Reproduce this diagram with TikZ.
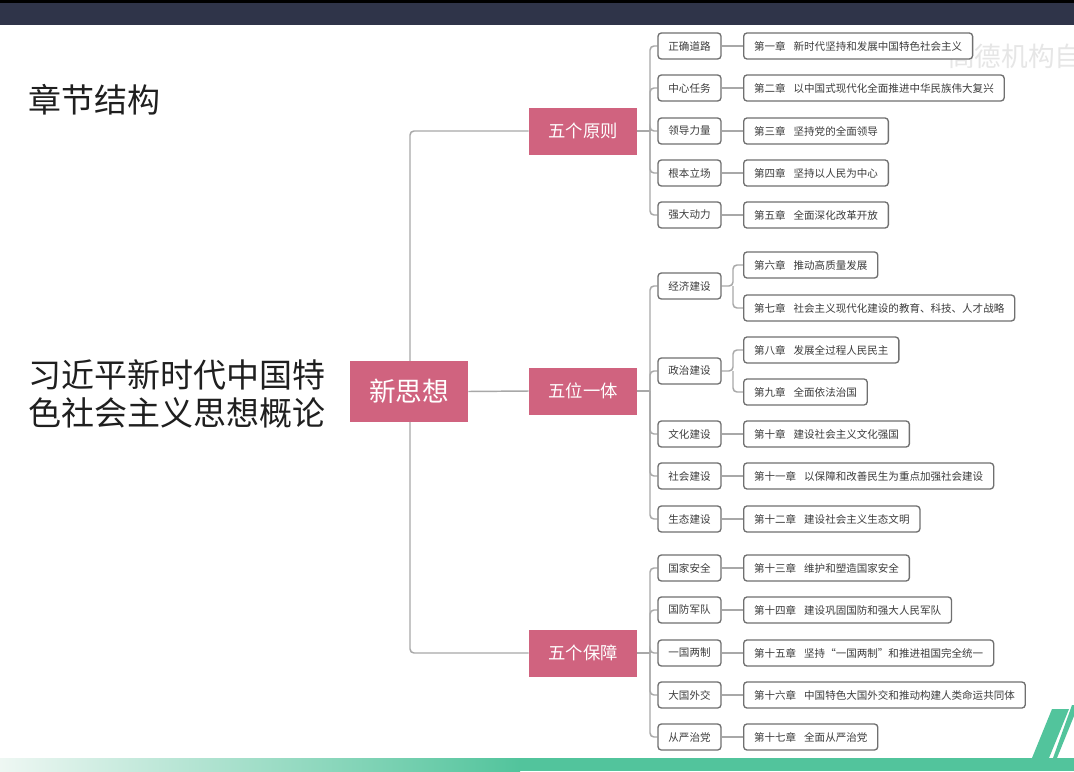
\documentclass[tikz,border=0pt]{standalone}
\usepackage{fontspec}
\setmainfont{Noto Sans CJK SC}
\usetikzlibrary{backgrounds}
\definecolor{pinkc}{HTML}{D0637F}
\definecolor{navyc}{HTML}{2F3449}
\definecolor{linec}{HTML}{A8A8A8}
\definecolor{boxc}{HTML}{707070}
\definecolor{txtc}{HTML}{3C3C3C}
\definecolor{greenc}{HTML}{52C49C}
\definecolor{palec}{HTML}{EEF7F3}
\definecolor{wmc}{HTML}{E6E6E6}
\newcommand\mychap[2]{#1\hspace{6pt}#2}
\begin{document}
\begin{tikzpicture}[x=0.75pt,y=-0.75pt,
  pinkbox/.style={fill=pinkc,text=white,inner sep=0pt,minimum width=81pt,minimum height=35.25pt,font=\fontsize{13}{15}\selectfont},
  secbox/.style={draw=boxc,line width=1pt,rounded corners=2.5pt,fill=white,text=txtc,inner sep=0pt,minimum width=47.25pt,minimum height=19.5pt,font=\fontsize{7.9}{9.5}\selectfont},
  chapbox/.style={secbox,anchor=west,minimum width=0pt,inner xsep=7.8pt},
  conn/.style={draw=linec,line width=1.1pt,rounded corners=3pt},
  bigtext/.style={anchor=west,inner sep=0pt,text=black!88,font=\fontsize{24.75}{28.5}\selectfont}
]
\useasboundingbox (0,0) rectangle (1074,771);
\begin{scope}[on background layer]
\fill[white] (0,0) rectangle (1074,771);
\end{scope}
% top bar
\fill[navyc] (0,0) rectangle (1074,25);
\fill[black] (0,0) rectangle (1074,3);
% bottom strip
\shade[left color=palec,right color=greenc] (0,758) rectangle (520,771);
\fill[greenc] (519,758) rectangle (1074,771);
\fill[greenc] (1052,709) -- (1069,709) -- (1049,758) -- (1032,758) -- cycle;
\fill[greenc] (1072,705) -- (1074,705) -- (1074,716) -- (1057,758) -- (1053,758) -- cycle;
% watermark
\node[anchor=west,inner sep=0pt,text=wmc,font=\fontsize{20}{24}\selectfont] (wm) at (948,56) {高德机构自};
% titles
\node[bigtext] (ttl) at (28,100) {章节结构};
\node[bigtext,align=left] (book) at (28,393.5) {习近平新时代中国特\\色社会主义思想概论};
% central
\node[pinkbox,minimum width=88.5pt,minimum height=45.75pt,font=\fontsize{20}{24}\selectfont] (xsx) at (409,391.5) {新思想};
\node[pinkbox] (g1) at (583,131) {五个原则};
\node[pinkbox] (g2) at (583,391) {五位一体};
\node[pinkbox] (g3) at (583,653) {五个保障};
% second level
\node[secbox] (p1) at (689.5,46) {正确道路};
\node[secbox] (p2) at (689.5,88) {中心任务};
\node[secbox] (p3) at (689.5,131) {领导力量};
\node[secbox] (p4) at (689.5,173) {根本立场};
\node[secbox] (p5) at (689.5,215) {强大动力};
\node[secbox] (p6) at (689.5,286) {经济建设};
\node[secbox] (p7) at (689.5,371) {政治建设};
\node[secbox] (p8) at (689.5,434) {文化建设};
\node[secbox] (p9) at (689.5,476) {社会建设};
\node[secbox] (p10) at (689.5,519) {生态建设};
\node[secbox] (p11) at (689.5,568) {国家安全};
\node[secbox] (p12) at (689.5,610) {国防军队};
\node[secbox] (p13) at (689.5,653) {一国两制};
\node[secbox] (p14) at (689.5,695) {大国外交};
\node[secbox] (p15) at (689.5,737) {从严治党};
% chapters
\node[chapbox] (c1) at (743,46) {\mychap{第一章}{新时代坚持和发展中国特色社会主义}};
\node[chapbox] (c2) at (743,88) {\mychap{第二章}{以中国式现代化全面推进中华民族伟大复兴}};
\node[chapbox] (c3) at (743,131) {\mychap{第三章}{坚持党的全面领导}};
\node[chapbox] (c4) at (743,173) {\mychap{第四章}{坚持以人民为中心}};
\node[chapbox] (c5) at (743,215) {\mychap{第五章}{全面深化改革开放}};
\node[chapbox] (c6) at (743,265) {\mychap{第六章}{推动高质量发展}};
\node[chapbox] (c7) at (743,308) {\mychap{第七章}{社会主义现代化建设的教育、科技、人才战略}};
\node[chapbox] (c8) at (743,350) {\mychap{第八章}{发展全过程人民民主}};
\node[chapbox] (c9) at (743,392) {\mychap{第九章}{全面依法治国}};
\node[chapbox] (c10) at (743,434) {\mychap{第十章}{建设社会主义文化强国}};
\node[chapbox] (c11) at (743,476) {\mychap{第十一章}{以保障和改善民生为重点加强社会建设}};
\node[chapbox] (c12) at (743,519) {\mychap{第十二章}{建设社会主义生态文明}};
\node[chapbox] (c13) at (743,568) {\mychap{第十三章}{维护和塑造国家安全}};
\node[chapbox] (c14) at (743,610) {\mychap{第十四章}{建设巩固国防和强大人民军队}};
\node[chapbox] (c15) at (743,653) {\mychap{第十五章}{坚持“一国两制”和推进祖国完全统一}};
\node[chapbox] (c16) at (743,695) {\mychap{第十六章}{中国特色大国外交和推动构建人类命运共同体}};
\node[chapbox] (c17) at (743,737) {\mychap{第十七章}{全面从严治党}};
% connectors
\begin{scope}[on background layer]
\coordinate (trunk) at (410,131);
\coordinate (b1) at (650,131);
\coordinate (b2) at (650,391);
\coordinate (b3) at (650,653);
\coordinate (k1) at (733,286);
\coordinate (k2) at (733,371);
\draw[conn] (xsx.east) -- (g2.west);
\draw[conn] (g1.west) -- (trunk) |- (g3.west);
\draw[conn] (g1.east) -- (b1);
\draw[conn] (g2.east) -- (b2);
\draw[conn] (g3.east) -- (b3);
\foreach \s in {p1,p2,p3,p4,p5} \draw[conn] (b1) |- (\s.west);
\foreach \s in {p6,p7,p8,p9,p10} \draw[conn] (b2) |- (\s.west);
\foreach \s in {p11,p12,p13,p14,p15} \draw[conn] (b3) |- (\s.west);
\draw[conn] (p1.east) -- (c1.west);
\draw[conn] (p2.east) -- (c2.west);
\draw[conn] (p3.east) -- (c3.west);
\draw[conn] (p4.east) -- (c4.west);
\draw[conn] (p5.east) -- (c5.west);
\draw[conn] (p6.east) -- (k1) |- (c6.west);
\draw[conn] (k1) |- (c7.west);
\draw[conn] (p7.east) -- (k2) |- (c8.west);
\draw[conn] (k2) |- (c9.west);
\draw[conn] (p8.east) -- (c10.west);
\draw[conn] (p9.east) -- (c11.west);
\draw[conn] (p10.east) -- (c12.west);
\draw[conn] (p11.east) -- (c13.west);
\draw[conn] (p12.east) -- (c14.west);
\draw[conn] (p13.east) -- (c15.west);
\draw[conn] (p14.east) -- (c16.west);
\draw[conn] (p15.east) -- (c17.west);
\end{scope}
\end{tikzpicture}
\end{document}
